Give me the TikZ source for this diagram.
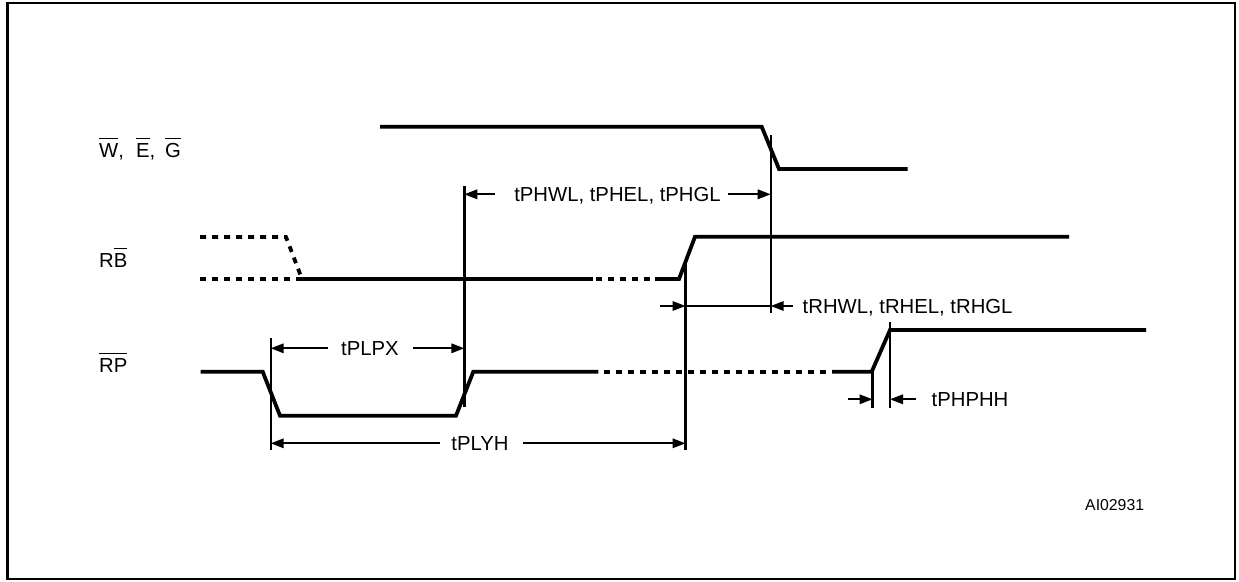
\documentclass[tikz,border=0pt]{standalone}
\usepackage{fontspec}
\setmainfont{Liberation Sans}
\usetikzlibrary{arrows.meta}
\newcommand\ovl[1]{\leavevmode\vbox{\hrule height 1.3pt \kern 3.6pt \hbox{#1}}}
\begin{document}
\begin{tikzpicture}[x=1pt,y=-1pt,
  sig/.style={line width=3.8pt, line join=miter, line cap=butt},
  sigdash/.style={sig, dash pattern=on 6pt off 6pt},
  vline/.style={line width=2.4pt},
  dim/.style={line width=1.8pt, -{Triangle[length=13pt,width=9.5pt]}},
  lbl/.style={font=\fontsize{20.3}{24}\selectfont, inner sep=0pt, anchor=base},
  lblw/.style={lbl, anchor=base west}]
\useasboundingbox (0,0) rectangle (1239,581);
\draw[line width=2.6pt] (7.3,3) rectangle (1235,579);

% signal names
\node[lblw] (nW) at (99,157) {\ovl{W},\hspace{12pt}\ovl{E},\hspace{10pt}\ovl{G}};
\node[lblw] (nRB) at (99,267) {R\ovl{B}};
\node[lblw] (nRP) at (99,372) {\ovl{RP}};

% W, E, G
\draw[sig] (380,126.7) -- (761.7,126.7) -- (779,169) -- (907.5,169);

% RB
\draw[sigdash] (200,237) -- (286,237) -- (302,279);
\draw[sigdash] (200,279) -- (302,279);
\draw[sig] (302,279) -- (593,279);
\draw[sigdash] (596,279) -- (655,279);
\draw[sig] (655,279) -- (679,279) -- (695,236.7) -- (1069,236.7);

% RP
\draw[sig] (200.5,371.7) -- (262.7,371.7) -- (280,415.7) -- (456,415.7) -- (473.3,371.7) -- (598.3,371.7);
\draw[sigdash] (604,371.7) -- (828,371.7);
\draw[sig] (832,371.7) -- (871.7,371.7) -- (890,330) -- (1146,330);

% vertical reference lines
\coordinate (v1t) at (464.3,186);   \coordinate (v1b) at (464.3,406.7);
\coordinate (v2t) at (770.7,135);   \coordinate (v2b) at (770.7,313);
\coordinate (v3t) at (685.5,263);   \coordinate (v3b) at (685.5,450);
\coordinate (v4t) at (270.7,338);   \coordinate (v4b) at (270.7,450);
\coordinate (v5t) at (872.5,370);   \coordinate (v5b) at (872.5,408);
\coordinate (v6t) at (890,321.7);   \coordinate (v6b) at (890,408);
\foreach \v in {1,...,6} \draw[vline] (v\v t) -- (v\v b);

% tPHWL, tPHEL, tPHGL
\node[lbl] (tphwl) at (617.5,201.5) {tPHWL, tPHEL, tPHGL};
\coordinate (a1) at (495,194.3);
\coordinate (a2) at (728,194.3);
\draw[dim] (a1) -- (v1t |- a1);
\draw[dim] (a2) -- (v2t |- a2);

% tRHWL, tRHEL, tRHGL
\node[lblw] (trhwl) at (802.5,313.5) {tRHWL, tRHEL, tRHGL};
\coordinate (b1) at (660,306);
\coordinate (b2) at (793,306);
\draw[dim] (b1) -- (v3t |- b1);
\draw[line width=1.8pt] (v3t |- b1) -- (v2t |- b1);
\draw[dim] (b2) -- (v2t |- b2);

% tPLPX
\node[lbl] (tplpx) at (370,355.8) {tPLPX};
\coordinate (c1) at (328,348.3);
\coordinate (c2) at (413,348.3);
\draw[dim] (c1) -- (v4t |- c1);
\draw[dim] (c2) -- (v1t |- c2);

% tPLYH
\node[lbl] (tplyh) at (480,450.8) {tPLYH};
\coordinate (d1) at (440,443.3);
\coordinate (d2) at (523,443.3);
\draw[dim] (d1) -- (v4t |- d1);
\draw[dim] (d2) -- (v3t |- d2);

% tPHPHH
\node[lblw] (tphphh) at (931.5,406.8) {tPHPHH};
\coordinate (e1) at (848,399.3);
\coordinate (e2) at (916,399.3);
\draw[dim] (e1) -- (v5t |- e1);
\draw[dim] (e2) -- (v6t |- e2);

\node[lblw, font=\fontsize{15.8}{19}\selectfont] (ai) at (1085,510.5) {AI02931};
\end{tikzpicture}
\end{document}
